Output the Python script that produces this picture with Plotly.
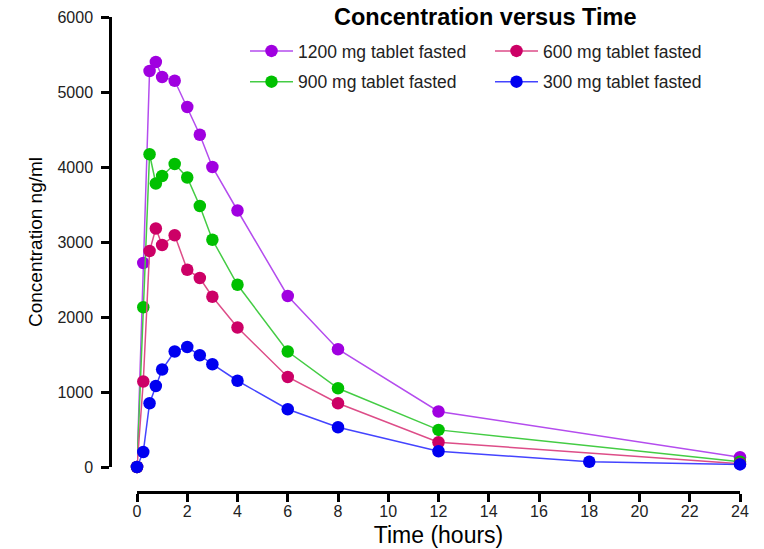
import plotly.graph_objects as go

time_main = [0, 0.25, 0.5, 0.75, 1, 1.5, 2, 2.5, 3, 4, 6, 8, 12, 24]
time_300 = [0, 0.25, 0.5, 0.75, 1, 1.5, 2, 2.5, 3, 4, 6, 8, 12, 18, 24]

conc_1200 = [0, 2720, 5280, 5400, 5200, 5150, 4800, 4430, 4000, 3420, 2280, 1570, 740, 130]
conc_900 = [0, 2130, 4170, 3780, 3880, 4040, 3860, 3480, 3030, 2430, 1540, 1050, 495, 70]
conc_600 = [0, 1140, 2880, 3180, 2960, 3090, 2630, 2520, 2270, 1860, 1200, 850, 330, 45]
conc_300 = [0, 200, 850, 1080, 1300, 1540, 1600, 1490, 1370, 1150, 770, 530, 210, 70, 35]

x_ticks = list(range(0, 25, 2))
y_ticks = list(range(0, 6001, 1000))

# name, x, y, marker colour, line colour, legend
series = [
    ("1200 mg tablet fasted", time_main, conc_1200, "#A000E0", "#B44CEE", "legend"),
    ("900 mg tablet fasted", time_main, conc_900, "#00C000", "#44CC44", "legend"),
    ("600 mg tablet fasted", time_main, conc_600, "#CC0066", "#DD4D88", "legend2"),
    ("300 mg tablet fasted", time_300, conc_300, "#0000F0", "#4444FF", "legend2"),
]

FONT = "Liberation Sans, Arial, sans-serif"

fig = go.Figure()
for name, xs, ys, mcol, lcol, leg in series:
    fig.add_trace(go.Scatter(
        x=xs, y=ys, name=name, mode="lines+markers",
        line=dict(color=lcol, width=1.5),
        marker=dict(color=mcol, size=12.5),
        cliponaxis=False, legend=leg, legendgroup=name,
    ))

# page body margin is removed by post_script, so work in window pixels
W, H = 764, 549
ml = 110            # y-axis line
mt = 17             # top of y range
xr = 740            # x = 24
xb = 492            # x-axis line
mr = W - xr
mb = H - xb
pw = W - ml - mr
ph = H - mt - mb

axis_common = dict(
    showline=True, linecolor="black", linewidth=2.5,
    ticks="outside", ticklen=8, tickwidth=2.5, tickcolor="black",
    showgrid=False, zeroline=False, automargin=False,
    tickfont=dict(family=FONT, size=16, color="#222"),
)

leg_common = dict(
    orientation="v", xanchor="left", yanchor="top",
    y=1 - (33 - mt) / ph, itemwidth=43, tracegroupgap=5,
    font=dict(family=FONT, size=17.5, color="#222"),
    bgcolor="rgba(0,0,0,0)", borderwidth=0,
)

fig.update_layout(
    width=W, height=H,
    margin=dict(l=ml, r=mr, t=mt, b=mb, autoexpand=False),
    paper_bgcolor="white", plot_bgcolor="white",
    xaxis=dict(
        **axis_common,
        domain=[(137 - ml) / pw, 1], anchor="free", position=0,
        range=[0, 24], tickvals=x_ticks, ticklabelstandoff=-4,
        title=dict(text="Time (hours)", font=dict(family=FONT, size=23, color="black"), standoff=7),
    ),
    yaxis=dict(
        **axis_common,
        domain=[(492 - 467) / ph, 1], anchor="free", position=0,
        range=[0, 6000], tickvals=y_ticks, ticklabelstandoff=5,
        title=dict(text="Concentration ng/ml", font=dict(family=FONT, size=19, color="black"), standoff=8),
    ),
    legend=dict(**leg_common, x=(245 - ml) / pw),
    legend2=dict(**leg_common, x=(490 - ml) / pw),
    showlegend=True,
    annotations=[dict(
        text="<b>Concentration versus Time</b>", xref="paper", yref="paper",
        x=(485 - ml) / pw, y=1.0, xanchor="center", yanchor="middle", showarrow=False,
        font=dict(family=FONT, size=23.5, color="black"),
    )],
)

fig.write_html(
    "out.html",
    config={"displayModeBar": False},
    post_script="document.body.style.margin='0';document.body.style.overflow='hidden';",
)
